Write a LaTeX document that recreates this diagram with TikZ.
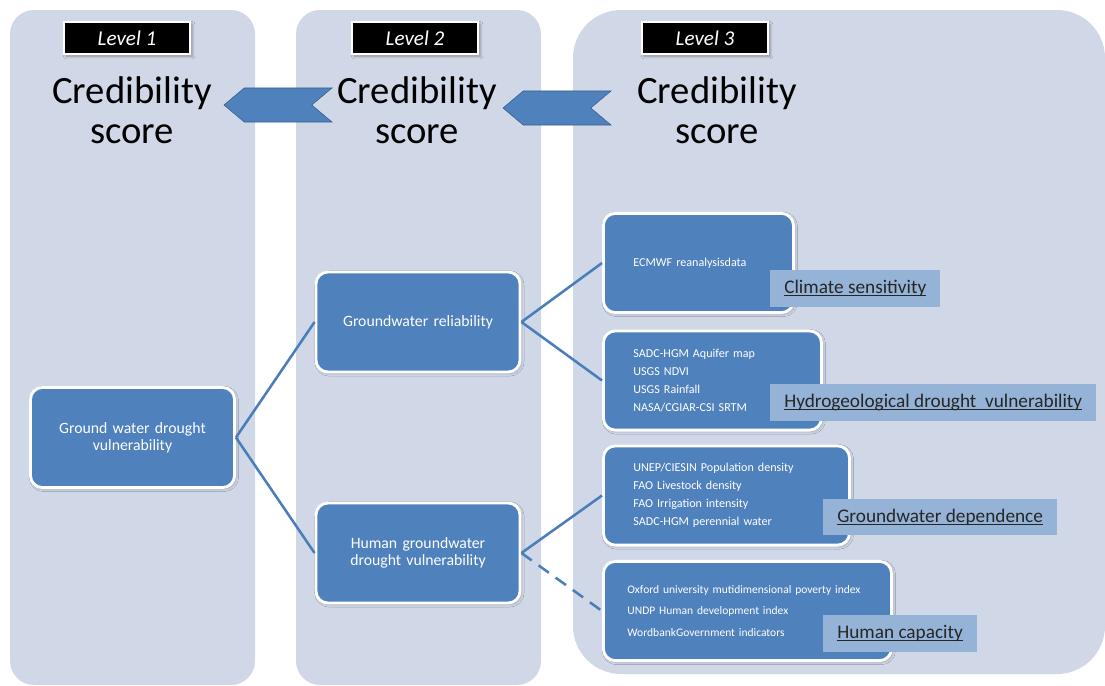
\documentclass[tikz,border=0pt]{standalone}
\usepackage{fontspec}
\setmainfont{Carlito}
\usepackage{xcolor}
\definecolor{panelgrey}{RGB}{208,216,232}
\definecolor{boxblue}{RGB}{79,129,189}
\definecolor{tagblue}{RGB}{149,179,215}
\definecolor{linkblue}{RGB}{74,126,187}
\definecolor{chevronedge}{RGB}{56,93,138}
\usepackage{tikz}
\usetikzlibrary{shapes.symbols, shadows.blur, positioning}
\newcommand{\tagul}[1]{\setbox0\hbox{#1}\rlap{\rule[-2pt]{\wd0}{0.8pt}}\box0}

\begin{document}
\begin{tikzpicture}[
  x=0.025cm, y=-0.025cm,
  levelbox/.style={rectangle, fill=black, draw=white, line width=2pt, minimum width=3.15cm, minimum height=0.8cm, text=white, font=\fontsize{15}{16}\selectfont\itshape, blur shadow={shadow xshift=1.5pt, shadow yshift=-1.5pt, shadow opacity=35}},
  score/.style={align=center, font=\fontsize{27.5}{28.5}\selectfont},
  chevron/.style={signal, signal to=west, signal from=east, signal pointer angle=80, fill=boxblue, draw=chevronedge, thin, minimum width=2.7cm, minimum height=0.85cm, inner sep=0pt},
  mainbox/.style={rectangle, rounded corners=0.3cm, fill=boxblue, draw=white, line width=2pt, minimum width=5.1cm, minimum height=2.5cm, text width=4.4cm, align=center, text=white, font=\fontsize{11.2}{12.2}\selectfont, blur shadow={shadow xshift=1pt, shadow yshift=-1pt, shadow opacity=25}},
  databox/.style={rectangle, rounded corners=0.3cm, fill=boxblue, draw=white, line width=2pt, minimum height=2.48cm, inner xsep=0.75cm, align=left, text=white, font=\fontsize{8.6}{12.8}\selectfont, anchor=west, blur shadow={shadow xshift=1pt, shadow yshift=-1pt, shadow opacity=25}},
  tag/.style={rectangle, fill=tagblue, minimum height=0.92cm, inner xsep=0.35cm, anchor=west, text=black!85, font=\fontsize{13.7}{14}\selectfont},
  link/.style={draw=linkblue, line width=1.8pt}
]
\useasboundingbox (0,0) rectangle (1105,685);

% Panels
\fill[panelgrey, rounded corners=0.6cm] (10,10) rectangle (255,685);
\fill[panelgrey, rounded corners=0.6cm] (296,10) rectangle (541,685);
\fill[panelgrey, rounded corners=1.2cm] (573,10) rectangle (1105,674);

% Levels
\node[levelbox] (lev1) at (127,38) {Level 1};
\node[levelbox] (lev2) at (415,38) {Level 2};
\node[levelbox] (lev3) at (705,38) {Level 3};

\node[score] (score1) at (132,110) {Credibility\\score};
\node[score] (score2) at (417,110) {Credibility\\score};
\node[score] (score3) at (717,110) {Credibility\\score};

\node[chevron] (chev1) at (278,105) {};
\node[chevron] (chev2) at (557,108) {};

% Indicator tree
\node[mainbox] (gwdv) at (132.5,437.5) {Ground water drought\\vulnerability};
\node[mainbox] (gr) at (418,322) {Groundwater reliability};
\node[mainbox] (hgdv) at (418,553) {Human groundwater\\drought vulnerability};

\node[databox, text width=3.25cm] (ecmwf) at (602,263) {ECMWF reanalysisdata};
\node[databox, text width=3.95cm] (sadc) at (602,380.5) {SADC-HGM Aquifer map\\USGS NDVI\\USGS Rainfall\\NASA/CGIAR-CSI SRTM};
\node[databox, text width=4.65cm] (unep) at (602,495.5) {UNEP/CIESIN Population density\\FAO Livestock density\\FAO Irrigation intensity\\SADC-HGM perennial water};
\node[databox, inner xsep=0.6cm, text width=6cm, font=\fontsize{8.2}{15}\selectfont] (oxford) at (602,611) {Oxford university mutidimensional poverty index\\UNDP Human development index\\WordbankGovernment indicators};

% Component tags
\node[tag] (climate) at (770,288.5) {\tagul{Climate sensitivity}};
\node[tag] (hydro) at (770,402.5) {\tagul{Hydrogeological drought\ \ vulnerability}};
\node[tag] (depend) at (823,517) {\tagul{Groundwater dependence}};
\node[tag] (capacity) at (823,633.5) {\tagul{Human capacity}};

% Links
\draw[link] (gwdv.east) -- (gr.west);
\draw[link] (gwdv.east) -- (hgdv.west);
\draw[link] (gr.east) -- (ecmwf.west);
\draw[link] (gr.east) -- (sadc.west);
\draw[link] (hgdv.east) -- (unep.west);
\draw[link, dash pattern=on 9pt off 6pt] (hgdv.east) -- (oxford.west);

\end{tikzpicture}
\end{document}
